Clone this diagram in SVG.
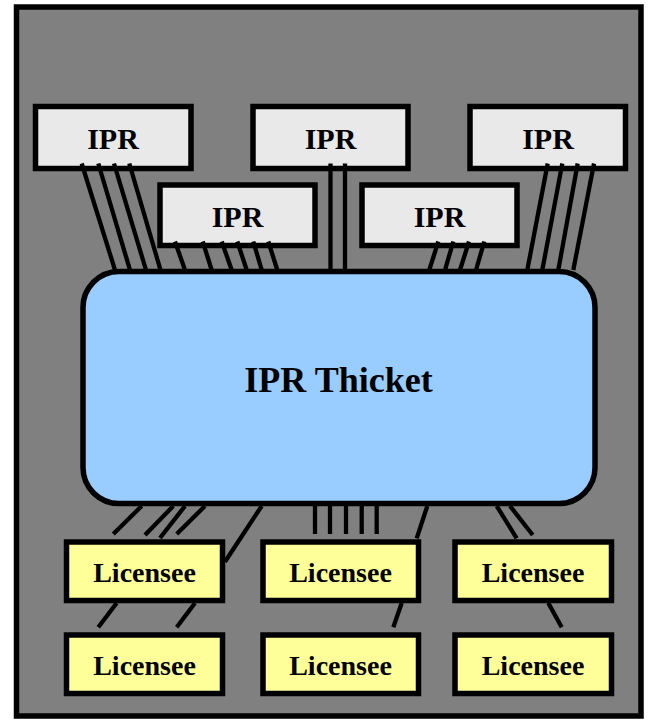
<svg xmlns="http://www.w3.org/2000/svg" width="649" height="721" viewBox="0 0 649 721">
<style>
.ipr{fill:#e9e9e9;stroke:#000;stroke-width:5.5}
.lic{fill:#ffff99;stroke:#000;stroke-width:5.5}
.th{fill:#99ccff;stroke:#000;stroke-width:5.5}
.t{font-family:"Liberation Serif","Times New Roman",serif;font-weight:bold;fill:#000;text-anchor:middle}
.c line{stroke:#000;stroke-width:4.3;stroke-linecap:butt}
</style>
<rect x="0" y="0" width="649" height="721" fill="#ffffff"/>
<rect id="frame" x="16.5" y="7" width="624.5" height="709" fill="#808080" stroke="#000" stroke-width="5.5"/>
<g id="ipr1"><rect class="ipr" x="35.5" y="106.5" width="155.5" height="62"/><text class="t" x="113" y="149" font-size="30">IPR</text></g>
<g id="ipr2"><rect class="ipr" x="253" y="106.5" width="155" height="62"/><text class="t" x="330.5" y="149" font-size="30">IPR</text></g>
<g id="ipr3"><rect class="ipr" x="470" y="106.5" width="155.5" height="62"/><text class="t" x="548" y="149" font-size="30">IPR</text></g>
<g id="ipr4"><rect class="ipr" x="160" y="185" width="155" height="60.5"/><text class="t" x="237.5" y="226.5" font-size="30">IPR</text></g>
<g id="ipr5"><rect class="ipr" x="362" y="185" width="155" height="60.5"/><text class="t" x="439.5" y="226.5" font-size="30">IPR</text></g>
<g id="thicket"><rect class="th" x="83" y="271.5" width="512" height="232" rx="36" ry="36"/><text class="t" x="338.5" y="392" font-size="36">IPR Thicket</text></g>
<g id="lic1"><rect class="lic" x="66.5" y="542" width="156" height="58.5"/><text class="t" x="144.5" y="582" font-size="28">Licensee</text></g>
<g id="lic2"><rect class="lic" x="263" y="542" width="155.5" height="58.5"/><text class="t" x="340.5" y="582" font-size="28">Licensee</text></g>
<g id="lic3"><rect class="lic" x="455" y="542" width="156.5" height="58.5"/><text class="t" x="533" y="582" font-size="28">Licensee</text></g>
<g id="lic4"><rect class="lic" x="66.5" y="635" width="156" height="58.5"/><text class="t" x="144.5" y="675" font-size="28">Licensee</text></g>
<g id="lic5"><rect class="lic" x="263" y="635" width="155.5" height="58.5"/><text class="t" x="340.5" y="675" font-size="28">Licensee</text></g>
<g id="lic6"><rect class="lic" x="455" y="635" width="156.5" height="58.5"/><text class="t" x="533" y="675" font-size="28">Licensee</text></g>
<g id="connectors" class="c">
<line x1="81.7" y1="163.5" x2="115" y2="270"/>
<line x1="98.3" y1="163.5" x2="130" y2="270"/>
<line x1="114" y1="163.5" x2="146" y2="270"/>
<line x1="129.3" y1="163.5" x2="160.5" y2="270"/>
<line x1="175" y1="241.5" x2="185" y2="270"/>
<line x1="202.7" y1="241.5" x2="211.7" y2="270"/>
<line x1="221.7" y1="241.5" x2="231.7" y2="270"/>
<line x1="237.3" y1="241.5" x2="246.7" y2="270"/>
<line x1="253.3" y1="241.5" x2="261.7" y2="270"/>
<line x1="268.3" y1="241.5" x2="277.3" y2="270"/>
<line x1="330.5" y1="163.5" x2="330.5" y2="270"/>
<line x1="345" y1="163.5" x2="345" y2="270"/>
<line x1="438.3" y1="241.5" x2="429.3" y2="270"/>
<line x1="453.3" y1="241.5" x2="445" y2="270"/>
<line x1="469" y1="241.5" x2="460" y2="270"/>
<line x1="484.3" y1="241.5" x2="476" y2="270"/>
<line x1="547.7" y1="163.5" x2="527.3" y2="270"/>
<line x1="562.3" y1="163.5" x2="542.3" y2="270"/>
<line x1="577.7" y1="163.5" x2="558.3" y2="270"/>
<line x1="594" y1="163.5" x2="573.3" y2="270"/>
<line x1="141.7" y1="506" x2="113.3" y2="534"/>
<line x1="173.3" y1="506" x2="145" y2="535"/>
<line x1="185" y1="506" x2="160" y2="538"/>
<line x1="205" y1="506" x2="176.7" y2="534"/>
<line x1="261.7" y1="506" x2="225" y2="561.7"/>
<line x1="315" y1="506" x2="315" y2="534"/>
<line x1="330" y1="506" x2="330" y2="534"/>
<line x1="346" y1="506" x2="346" y2="534"/>
<line x1="361.7" y1="506" x2="361.7" y2="534"/>
<line x1="376.7" y1="506" x2="376.7" y2="534"/>
<line x1="427.3" y1="506" x2="416.7" y2="538.3"/>
<line x1="496.7" y1="506" x2="516.7" y2="538.3"/>
<line x1="510" y1="506" x2="532.7" y2="535"/>
<line x1="116.7" y1="603" x2="98.3" y2="627.3"/>
<line x1="195" y1="603" x2="176.7" y2="627.3"/>
<line x1="401.7" y1="603" x2="393.3" y2="627.3"/>
<line x1="548.3" y1="603" x2="561.7" y2="627.3"/>
</g>
</svg>
